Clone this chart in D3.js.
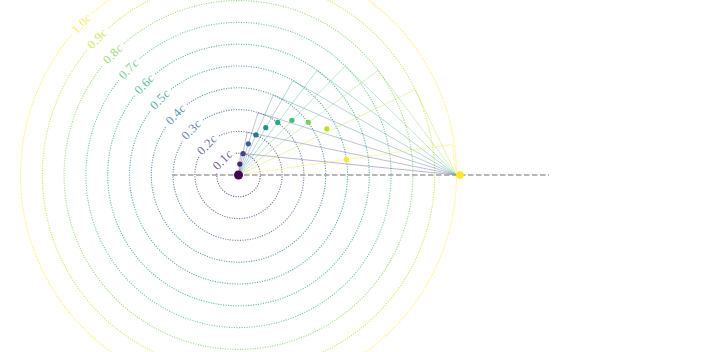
<!DOCTYPE html>
<meta charset="utf-8">
<style>
  body { margin: 0; background: #fff; }
  svg { display: block; }
</style>
<body>
<script src="https://cdn.jsdelivr.net/npm/d3@7"></script>
<script>
var width = 703,
    height = 352;

// circles of constant speed (fraction of c)
var circleSpeeds = [0.1, 0.2, 0.3, 0.4, 0.5, 0.6, 0.7, 0.8, 0.9, 1.0];
var circleLabels = ["0.1", "0.2", "0.3", "0.4", "0.5", "0.6", "0.7", "0.8", "0.9", "1.0"];

// speeds of the constructed points
var pointSpeeds = [0.1, 0.2, 0.3, 0.4, 0.5, 0.6, 0.7, 0.8, 0.9, 0.99];
// tangent points on each circle (units of c)
var tangentX = [0.01, 0.04, 0.09, 0.16, 0.25, 0.36, 0.49, 0.64, 0.81, 0.98];
var tangentY = [0.0995, 0.196, 0.286, 0.367, 0.433, 0.48, 0.5, 0.48, 0.392, 0.14];
// plotted dots (units of c)
var dotX = [0.006, 0.021, 0.045, 0.08, 0.125, 0.18, 0.245, 0.32, 0.405, 0.495];
var dotY = [0.05, 0.098, 0.143, 0.184, 0.217, 0.241, 0.251, 0.242, 0.212, 0.071];

var origin = [0, 0],
    source = [1.016, 0],
    focus = [1, 0];
var axisExtent = [-0.305, 1.424];

var x = d3.scaleLinear().domain([0, 1]).range([238.5, 456.5]);
var y = d3.scaleLinear().domain([0, 1]).range([175, -43]);
var color = d3.interpolateViridis;

var svg = d3.select("body").append("svg")
    .attr("width", width)
    .attr("height", height);

var cx = x(0), cy = y(0);
var labelAngle = 224 * Math.PI / 180;

// circles with a gap for the label
var circles = svg.append("g");
circleSpeeds.forEach(function(k, i) {
  var r = x(k) - x(0);
  var c = color(k);
  var label = circles.append("text")
      .attr("transform", "translate(" + (cx + r * Math.cos(labelAngle)) + "," + (cy + r * Math.sin(labelAngle)) + ") rotate(-46)")
      .attr("text-anchor", "middle")
      .attr("dominant-baseline", "central")
      .style("font-family", "'Liberation Serif', 'DejaVu Serif', serif")
      .style("font-size", "12.5px")
      .style("letter-spacing", "0.4px")
      .attr("fill", c)
      .attr("fill-opacity", 0.8);
  label.append("tspan").text(circleLabels[i]);
  label.append("tspan").style("font-style", "italic").text("c");
  var w = label.node().getComputedTextLength();
  var g = (w / 2 + 3.5) / r;
  var p = d3.path();
  p.arc(cx, cy, r, labelAngle + g, labelAngle - g + 2 * Math.PI, false);
  circles.append("path")
      .attr("d", p.toString())
      .attr("fill", "none")
      .attr("stroke", c)
      .attr("stroke-opacity", 0.75)
      .attr("stroke-width", 1.1)
      .attr("stroke-dasharray", "1.1,1.4");
});

// radius lines and tangent lines
var lines = svg.append("g").attr("fill", "none").attr("stroke-width", 1).attr("stroke-opacity", 0.35);
pointSpeeds.forEach(function(k, i) {
  lines.append("line")
      .attr("x1", x(origin[0])).attr("y1", y(origin[1]))
      .attr("x2", x(tangentX[i])).attr("y2", y(tangentY[i]))
      .attr("stroke", color(k));
  lines.append("line")
      .attr("x1", x(focus[0])).attr("y1", y(focus[1]))
      .attr("x2", x(tangentX[i])).attr("y2", y(tangentY[i]))
      .attr("stroke", color(k));
});

// axis of motion
svg.append("line")
    .attr("x1", x(axisExtent[0])).attr("y1", y(0))
    .attr("x2", x(axisExtent[1])).attr("y2", y(0))
    .attr("stroke", "#9e9e9e")
    .attr("stroke-width", 1.5)
    .attr("stroke-dasharray", "5.5,2.5");

// dots
var dots = svg.append("g");
dots.selectAll("circle.pt")
  .data(pointSpeeds)
  .enter().append("circle")
    .attr("class", "pt")
    .attr("cx", function(d, i) { return x(dotX[i]); })
    .attr("cy", function(d, i) { return y(dotY[i]); })
    .attr("r", 2.6)
    .attr("fill", function(d) { return color(d); });

dots.append("circle")
    .attr("cx", x(origin[0])).attr("cy", y(origin[1]))
    .attr("r", 4.5)
    .attr("fill", color(0));

dots.append("circle")
    .attr("cx", x(source[0])).attr("cy", y(source[1]))
    .attr("r", 3.8)
    .attr("fill", color(1));
</script>
</body>
